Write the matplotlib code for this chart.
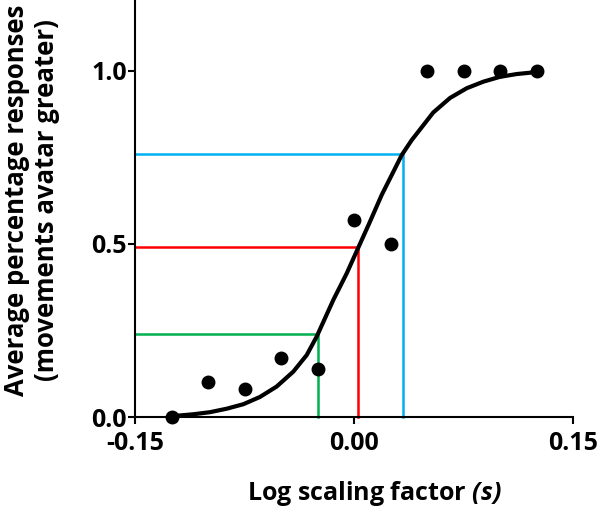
import matplotlib
matplotlib.use('Agg')
import matplotlib.pyplot as plt

plt.rcParams['font.family'] = ['Open Sans', 'DejaVu Sans']
plt.rcParams['font.weight'] = 'bold'
plt.rcParams['mathtext.fontset'] = 'custom'
plt.rcParams['mathtext.bfit'] = 'Open Sans:bold:italic'
plt.rcParams['mathtext.it'] = 'Open Sans:bold:italic'

# observed responses
scale_x = [-0.125, -0.10, -0.075, -0.05, -0.025, 0.0, 0.025, 0.05, 0.075, 0.10, 0.125]
resp_y = [0.0, 0.10, 0.08, 0.17, 0.14, 0.57, 0.50, 1.0, 1.0, 1.0, 1.0]

# fitted curve
fit_x = [-0.126, -0.110, -0.0986, -0.0872, -0.0758, -0.0644, -0.053, -0.0416, -0.0324,
         -0.0256, -0.0142, -0.005, 0.003, 0.011, 0.019, 0.027, 0.0327, 0.0395,
         0.0543, 0.0658, 0.0772, 0.0886, 0.100, 0.1114, 0.1255]
fit_y = [0.002, 0.008, 0.014, 0.024, 0.037, 0.058, 0.088, 0.131, 0.179,
         0.232, 0.338, 0.415, 0.490, 0.565, 0.642, 0.709, 0.757, 0.800,
         0.880, 0.922, 0.950, 0.969, 0.983, 0.991, 0.997]

# threshold guide lines (x at curve, y level)
guide_x = [-0.0244, 0.003, 0.0338]
guide_y = [0.24, 0.492, 0.761]
guide_colors = ['#00B050', '#FF0000', '#00B0F0']

fig = plt.figure(figsize=(6, 5.12), dpi=100)
ax = fig.add_axes([0.225, 0.1855, 0.73, 0.8145])

for gx, gy, c in zip(guide_x, guide_y, guide_colors):
    ax.plot([-0.15, gx, gx], [gy, gy, 0], color=c, lw=1.8, zorder=2, clip_on=False)

ax.plot(fit_x, fit_y, color='black', lw=3, solid_capstyle='round',
        solid_joinstyle='round', zorder=3)
ax.plot(scale_x, resp_y, 'o', color='black', ms=9, zorder=4, clip_on=False)

ax.set_xlim(-0.15, 0.15)
ax.set_ylim(0, 1.205)
ax.set_xticks([-0.15, 0.0, 0.15])
ax.set_xticklabels(['-0.15', '0.00', '0.15'])
ax.set_yticks([0.0, 0.5, 1.0])
ax.set_yticklabels(['0.0', '0.5', '1.0'])

for s in ['top', 'right']:
    ax.spines[s].set_visible(False)
for s in ['left', 'bottom']:
    ax.spines[s].set_linewidth(1.5)
ax.tick_params(width=1.5, length=5, labelsize=18, direction='out')
ax.tick_params(axis='y', pad=1)
ax.tick_params(axis='x', pad=5)

ax.set_xlabel(r'Log scaling factor $\mathbfit{(s)}$', fontsize=18, fontweight='bold')
ax.xaxis.set_label_coords(0.546, -0.148)
ax.set_ylabel('Average percentage responses\n(movements avatar greater)',
              fontsize=18.5, fontweight='bold', linespacing=1.15)
ax.yaxis.set_label_coords(-0.171, 0.52)

fig.savefig('out.png', dpi=100)
